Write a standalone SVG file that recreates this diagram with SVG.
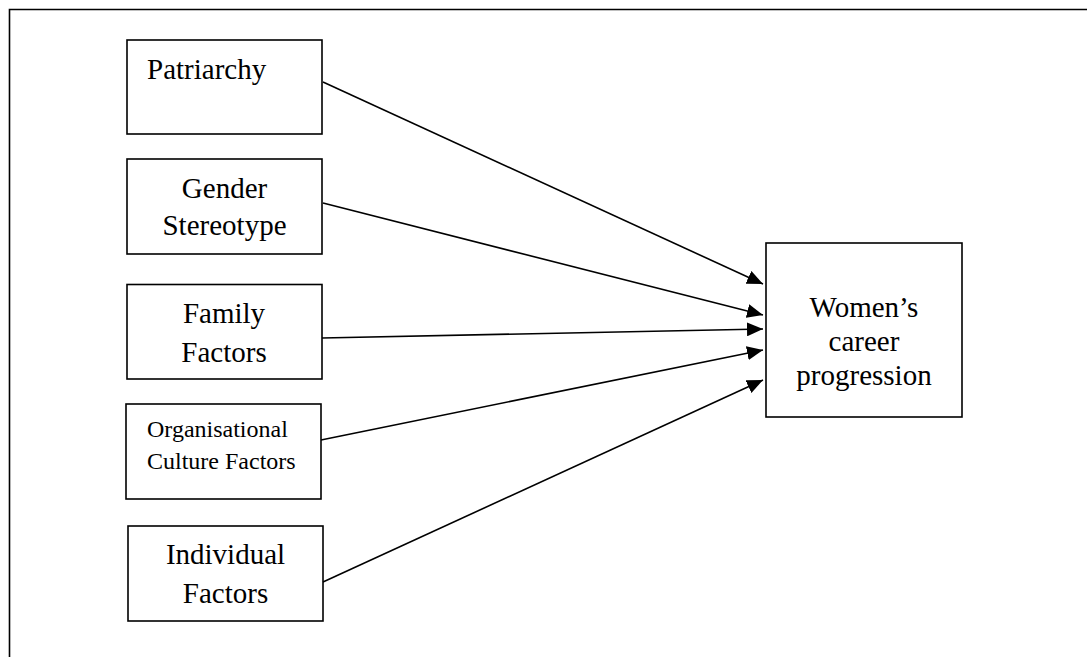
<svg xmlns="http://www.w3.org/2000/svg" width="1087" height="657" viewBox="0 0 1087 657">
<style>
.box{fill:#fff;stroke:#000;stroke-width:1.6}
.t{font-family:"Liberation Serif","Times New Roman",serif;font-size:29px;fill:#000}
.s{font-size:24px}
.c{text-anchor:middle}
.e{stroke:#000;stroke-width:1.6;fill:none}
</style>
<defs>
<marker id="ah" markerUnits="userSpaceOnUse" markerWidth="16" markerHeight="14" refX="16" refY="7" orient="auto">
<path d="M0,0 L16,7 L0,14 Z" fill="#000"/>
</marker>
</defs>
<g id="frame"><path d="M9.5,657 V9.5 H1087" fill="none" stroke="#000" stroke-width="1.6"/></g>
<g id="n-patriarchy"><rect class="box" x="127" y="40" width="195" height="94"/><text class="t" x="147" y="79">Patriarchy</text></g>
<g id="n-gender"><rect class="box" x="127" y="159" width="195" height="95"/><text class="t c" x="224.5" y="198">Gender</text><text class="t c" x="224.5" y="235">Stereotype</text></g>
<g id="n-family"><rect class="box" x="127" y="284.5" width="195" height="94.5"/><text class="t c" x="224" y="323">Family</text><text class="t c" x="224" y="362">Factors</text></g>
<g id="n-org"><rect class="box" x="126" y="404" width="195" height="95"/><text class="t s" x="147" y="437">Organisational</text><text class="t s" x="147" y="469">Culture Factors</text></g>
<g id="n-individual"><rect class="box" x="128" y="526" width="195" height="95"/><text class="t c" x="225.5" y="564">Individual</text><text class="t c" x="225.5" y="603">Factors</text></g>
<g id="n-women"><rect class="box" x="766" y="243" width="196" height="174"/><text class="t c" x="864" y="317">Women’s</text><text class="t c" x="864" y="351">career</text><text class="t c" x="864" y="385">progression</text></g>
<g id="connectors">
<line class="e" x1="323" y1="82" x2="763" y2="284" marker-end="url(#ah)"/>
<line class="e" x1="323" y1="203" x2="763" y2="315" marker-end="url(#ah)"/>
<line class="e" x1="322" y1="338" x2="763" y2="329" marker-end="url(#ah)"/>
<line class="e" x1="321" y1="440" x2="763" y2="350" marker-end="url(#ah)"/>
<line class="e" x1="323" y1="582" x2="763" y2="380" marker-end="url(#ah)"/>
</g>
</svg>
